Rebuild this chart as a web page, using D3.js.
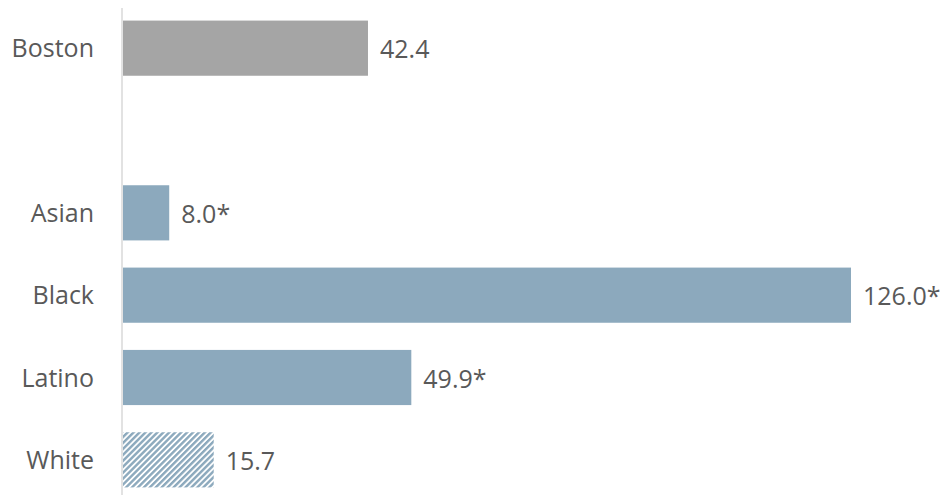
<!DOCTYPE html>
<html><head><meta charset="utf-8">
<script src="https://cdn.jsdelivr.net/npm/d3@7"></script>
<style>body{margin:0;background:#fff}</style>
</head><body>
<svg id="c" width="949" height="498"></svg>
<script>
const categories = ["Boston", "", "Asian", "Black", "Latino", "White"];
const values = [42.4, null, 8.0, 126.0, 49.9, 15.7];
const valueLabels = ["42.4", "", "8.0*", "126.0*", "49.9*", "15.7"];
const colors = ["#A5A5A5", null, "#8CA9BD", "#8CA9BD", "#8CA9BD", "hatch"];

const svg = d3.select("#c");
const x0 = 123;
const x = d3.scaleLinear().domain([0, 126]).range([x0, 851]);
const y = d3.scaleBand().domain(d3.range(categories.length)).range([7, 501]).paddingInner(0.33).paddingOuter(0.165);

const defs = svg.append("defs");
const pat = defs.append("pattern").attr("id","hatch").attr("patternUnits","userSpaceOnUse")
  .attr("width",4.2).attr("height",4.2).attr("patternTransform","rotate(45)");
pat.append("rect").attr("width",4.2).attr("height",4.2).attr("fill","#fff");
pat.append("rect").attr("width",2.4).attr("height",4.2).attr("fill","#8CA9BD");

const idx = d3.range(categories.length).filter(i => values[i] != null);

svg.selectAll("rect.bar").data(idx).enter().append("rect")
  .attr("class","bar")
  .attr("x", x(0))
  .attr("y", i => y(i))
  .attr("width", i => x(values[i]) - x(0))
  .attr("height", y.bandwidth())
  .attr("fill", i => colors[i] === "hatch" ? "url(#hatch)" : colors[i]);

svg.append("line").attr("x1",122).attr("x2",122).attr("y1",8).attr("y2",495)
  .attr("stroke","#D9D9D9").attr("stroke-width",1.5);

const font = "'Open Sans', sans-serif";
svg.selectAll("text.cat").data(idx).enter().append("text")
  .attr("x", 94).attr("y", i => y(i) + y.bandwidth()/2 - 1)
  .attr("text-anchor","end").attr("dominant-baseline","central")
  .attr("font-family", font).attr("font-size", 25).attr("fill","#595959")
  .text(i => categories[i]);

svg.selectAll("text.val").data(idx).enter().append("text")
  .attr("x", i => x(values[i]) + 12).attr("y", i => y(i) + y.bandwidth()/2)
  .attr("dominant-baseline","central")
  .attr("font-family", font).attr("font-size", 25).attr("fill","#595959")
  .text(i => valueLabels[i]);
</script>
</body></html>
